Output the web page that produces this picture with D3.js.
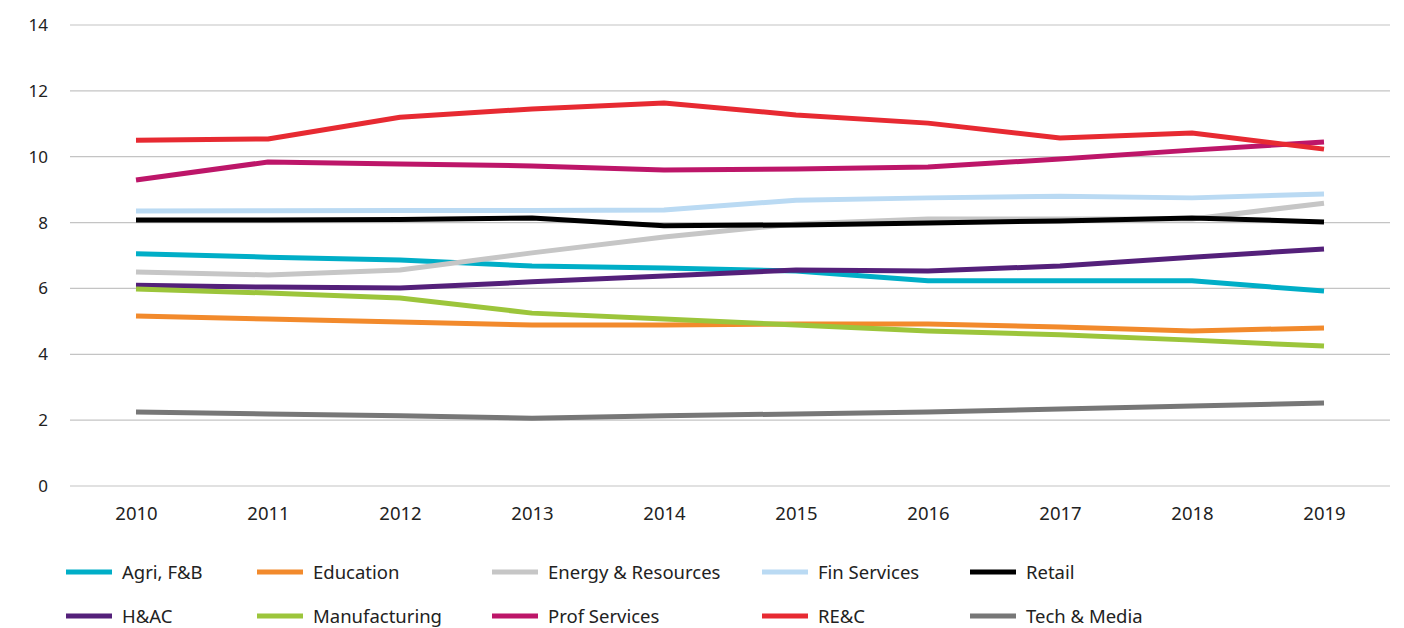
<!DOCTYPE html>
<html>
<head>
<meta charset="utf-8">
<script src="https://cdn.jsdelivr.net/npm/d3@7"></script>
<style>
  body { margin: 0; background: #fff; }
  svg { display: block; font-family: "Noto Sans", "Lato", sans-serif; }
</style>
</head>
<body>
<svg id="chart"></svg>
<script>
var width = 1404;
var height = 628;

// data
var years = [2010, 2011, 2012, 2013, 2014, 2015, 2016, 2017, 2018, 2019];
var yTicks = [0, 2, 4, 6, 8, 10, 12, 14];
var seriesNames = ["Agri, F&B", "Education", "Energy & Resources", "Fin Services", "Retail",
                   "H&AC", "Manufacturing", "Prof Services", "RE&C", "Tech & Media"];
var agri = [7.05, 6.95, 6.86, 6.68, 6.62, 6.53, 6.23, 6.23, 6.23, 5.92];
var education = [5.16, 5.07, 4.98, 4.89, 4.89, 4.92, 4.92, 4.83, 4.71, 4.80];
var energy = [6.50, 6.41, 6.56, 7.08, 7.56, 7.96, 8.11, 8.11, 8.11, 8.59];
var finServices = [8.35, 8.36, 8.37, 8.37, 8.38, 8.68, 8.75, 8.80, 8.75, 8.87];
var retail = [8.08, 8.08, 8.09, 8.14, 7.90, 7.93, 7.99, 8.05, 8.14, 8.02];
var hac = [6.10, 6.04, 6.01, 6.20, 6.38, 6.56, 6.53, 6.68, 6.95, 7.20];
var manufacturing = [5.98, 5.86, 5.71, 5.25, 5.07, 4.89, 4.71, 4.59, 4.43, 4.25];
var profServices = [9.29, 9.84, 9.78, 9.72, 9.60, 9.63, 9.69, 9.93, 10.20, 10.45];
var rec = [10.50, 10.54, 11.20, 11.45, 11.63, 11.27, 11.02, 10.57, 10.72, 10.23];
var techMedia = [2.25, 2.19, 2.13, 2.06, 2.13, 2.19, 2.25, 2.34, 2.43, 2.52];

var colors = ["#00aec7", "#f28a2c", "#c6c6c6", "#badaf3", "#000000",
              "#54207a", "#9cc53b", "#bd1669", "#e72a32", "#777777"];

var allValues = [agri, education, energy, finServices, retail, hac, manufacturing, profServices, rec, techMedia];

var series = seriesNames.map(function (name, i) {
	return { name: name, color: colors[i], values: allValues[i] };
});

var svg = d3.select("#chart")
	.attr("width", width)
	.attr("height", height);

var x = d3.scalePoint()
	.domain(years)
	.range([70, 1390])
	.padding(0.5);

var y = d3.scaleLinear()
	.domain([0, 14])
	.range([486, 25]);

// horizontal gridlines
svg.append("g")
	.selectAll("line")
	.data(yTicks)
	.enter().append("line")
	.attr("x1", 70)
	.attr("x2", 1390)
	.attr("y1", d => y(d))
	.attr("y2", d => y(d))
	.attr("stroke", "#c4c4c4")
	.attr("stroke-width", 1.2);

// y axis labels
var yAxis = d3.axisLeft(y).tickValues(yTicks).tickSize(0).tickPadding(0);
var gy = svg.append("g").attr("transform", "translate(48,0)").call(yAxis);
gy.select(".domain").remove();
gy.selectAll("text")
	.attr("font-size", 17)
	.attr("font-family", "'Noto Sans', Lato, sans-serif")
	.attr("fill", "#222");

// x axis labels
var xAxis = d3.axisBottom(x).tickSize(0).tickPadding(0).tickFormat(d3.format("d"));
var gx = svg.append("g").attr("transform", "translate(0,507)").call(xAxis);
gx.select(".domain").remove();
gx.selectAll("text")
	.attr("font-size", 18.5)
	.attr("font-family", "'Noto Sans', Lato, sans-serif")
	.attr("fill", "#222");

// lines
var line = d3.line()
	.x((d, i) => x(years[i]))
	.y(d => y(d));

svg.append("g")
	.selectAll("path")
	.data(series)
	.enter().append("path")
	.attr("d", d => line(d.values))
	.attr("fill", "none")
	.attr("stroke", d => d.color)
	.attr("stroke-width", 5)
	.attr("stroke-linejoin", "round")
	.attr("stroke-linecap", "butt");

// legend, 5 columns x 2 rows
var legendCols = [66, 257, 492, 762, 970];
var legendRows = [572, 616];

var legend = svg.append("g")
	.selectAll("g")
	.data(series)
	.enter().append("g")
	.attr("transform", (d, i) => "translate(" + legendCols[i % 5] + "," + legendRows[Math.floor(i / 5)] + ")");

legend.append("line")
	.attr("x1", 0)
	.attr("x2", 46)
	.attr("stroke", d => d.color)
	.attr("stroke-width", 5);

legend.append("text")
	.attr("x", 56)
	.attr("y", 7)
	.attr("font-size", 18.5)
	.attr("fill", "#222")
	.text(d => d.name);
</script>
</body>
</html>
